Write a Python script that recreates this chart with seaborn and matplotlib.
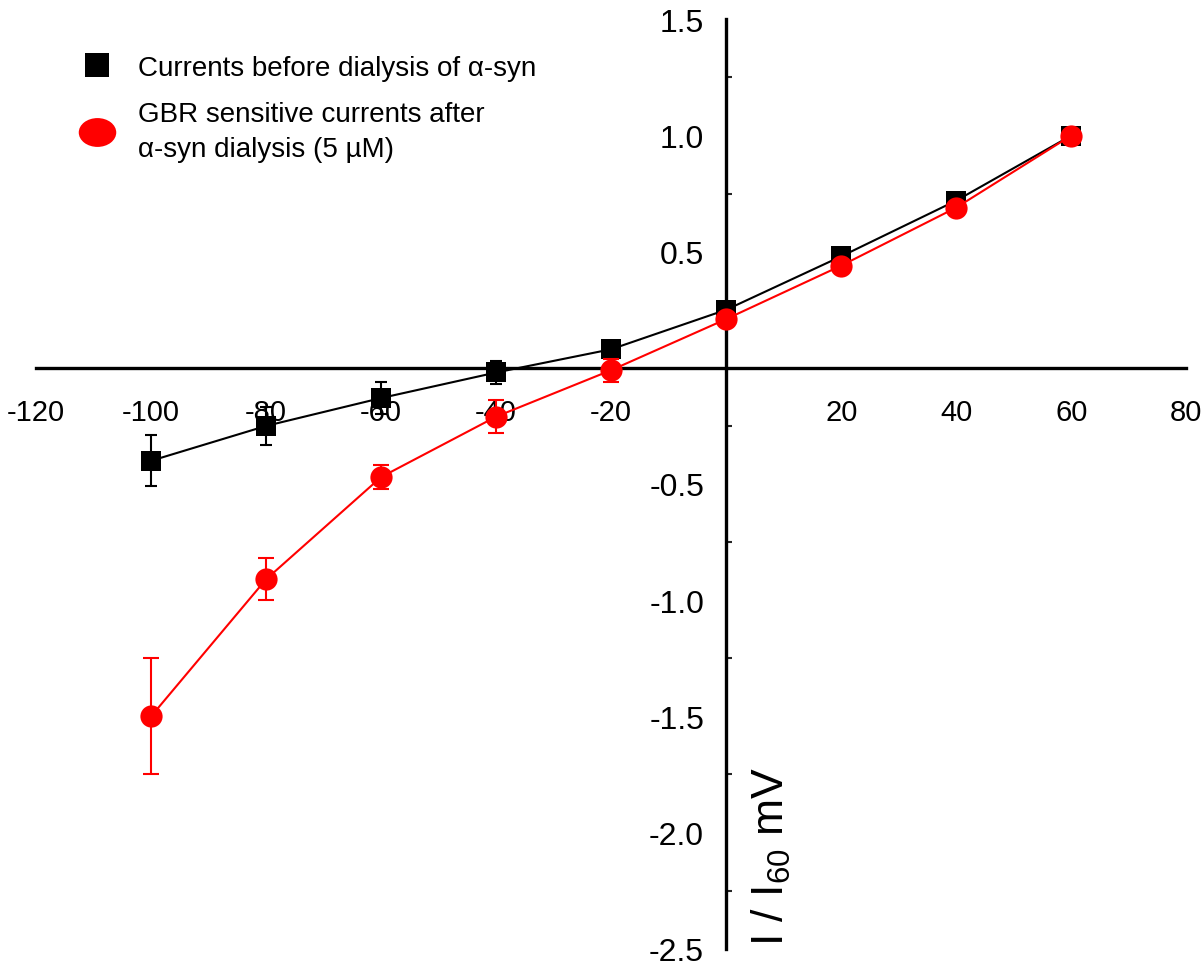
"""
I/V relation: currents before vs after alpha-syn dialysis.
"""

import numpy as np
import pandas as pd
import matplotlib.pyplot as plt
import seaborn as sns
from matplotlib.lines import Line2D
from matplotlib.path import Path
from matplotlib.transforms import Affine2D

# ── Data ─────────────────────────────────────────────────────────────────────
voltage = [-100, -80, -60, -40, -20, 0, 20, 40, 60]

before_mean = [-0.40, -0.25, -0.13, -0.02, 0.08, 0.25, 0.48, 0.72, 1.00]
before_err  = [0.11, 0.08, 0.07, 0.05, 0.02, 0.02, 0.02, 0.02, 0.0]

after_mean  = [-1.50, -0.91, -0.47, -0.21, -0.01, 0.21, 0.44, 0.69, 1.00]
after_err   = [0.25, 0.09, 0.05, 0.07, 0.05, 0.01, 0.01, 0.01, 0.0]

x_ticks = [-120, -100, -80, -60, -40, -20, 0, 20, 40, 60, 80]
y_ticks = [-2.5, -2.0, -1.5, -1.0, -0.5, 0.0, 0.5, 1.0, 1.5]

label_before = "Currents before dialysis of α-syn"
label_after  = "GBR sensitive currents after\nα-syn dialysis (5 µM)"

# fmt: off
BEFORE_COLOR = "black"
AFTER_COLOR  = "#ff0000"
# fmt: on

df = pd.DataFrame({
    "voltage": voltage,
    "before": before_mean,
    "after": after_mean,
})

# ── Style ────────────────────────────────────────────────────────────────────
sns.set_style("white")
plt.rcParams["font.family"] = ["Liberation Sans", "DejaVu Sans"]
plt.rcParams["axes.unicode_minus"] = False
plt.rcParams["mathtext.default"] = "regular"

fig = plt.figure(figsize=(12.02, 9.70), dpi=100)
ax = fig.add_axes([0.03, 0.021, 0.957, 0.958])

# ── Series ───────────────────────────────────────────────────────────────────
ax.errorbar(voltage, before_mean, yerr=before_err, fmt="none",
            ecolor=BEFORE_COLOR, elinewidth=1.5, capsize=4.5, capthick=1.5, zorder=3)
sns.lineplot(data=df, x="voltage", y="before", color=BEFORE_COLOR,
             marker="s", markersize=14, markeredgewidth=0, linewidth=1.5, ax=ax, zorder=4)

ax.errorbar(voltage, after_mean, yerr=after_err, fmt="none",
            ecolor=AFTER_COLOR, elinewidth=1.5, capsize=6, capthick=1.5, zorder=5)
sns.lineplot(data=df, x="voltage", y="after", color=AFTER_COLOR,
             marker="o", markersize=16, markeredgewidth=0, linewidth=1.5, ax=ax, zorder=6)

# ── Axes through the origin ─────────────────────────────────────────────────
ax.set_xlim(-120, 80)
ax.set_ylim(-2.5, 1.5)
ax.spines["left"].set_position(("data", 0))
ax.spines["bottom"].set_position(("data", 0))
ax.spines["top"].set_visible(False)
ax.spines["right"].set_visible(False)
for side in ["left", "bottom"]:
    ax.spines[side].set_linewidth(2.4)
    ax.spines[side].set_color("black")

ax.set_xticks(x_ticks)
ax.set_yticks(y_ticks)
ax.xaxis.set_major_formatter(plt.FuncFormatter(lambda v, _: "" if v == 0 else f"{int(v)}"))
ax.yaxis.set_major_formatter(plt.FuncFormatter(lambda v, _: "" if v == 0 else f"{v:.1f}"))
ax.set_yticks(np.arange(-2.25, 1.5, 0.5), minor=True)
ax.tick_params(axis="both", which="major", direction="out", length=10, width=2.4,
               color="black", labelcolor="black")
ax.tick_params(axis="x", labelsize=21, pad=12)
ax.tick_params(axis="y", labelsize=23, pad=6)
ax.tick_params(axis="y", which="minor", direction="in", length=4, width=1.5, left=True)
ax.set_xlabel("")
ax.set_ylabel("")

ax.text(7.8, -2.10, r"I / I$_{60}$ mV", rotation=90, ha="center", va="center",
        fontsize=32, color="black")

# ── Legend ───────────────────────────────────────────────────────────────────
ellipse = Path.unit_circle().transformed(Affine2D().scale(1.3, 1.0))
handles = [
    Line2D([], [], linestyle="none", marker="s", markersize=17,
           color=BEFORE_COLOR, markeredgewidth=0, label=label_before),
    Line2D([], [], linestyle="none", marker=ellipse, markersize=27,
           color=AFTER_COLOR, markeredgewidth=0, label=label_after),
]
leg = ax.legend(handles=handles, loc="upper left", bbox_to_anchor=(0.031, 0.974),
                frameon=False, fontsize=20, labelcolor="black", handlelength=1.0,
                handletextpad=0.97, labelspacing=0.75, borderaxespad=0.0)
leg.get_texts()[1].set_linespacing(1.45)

plt.savefig("out.png", dpi=100, facecolor="white")
plt.close()
print("Saved: out.png")
